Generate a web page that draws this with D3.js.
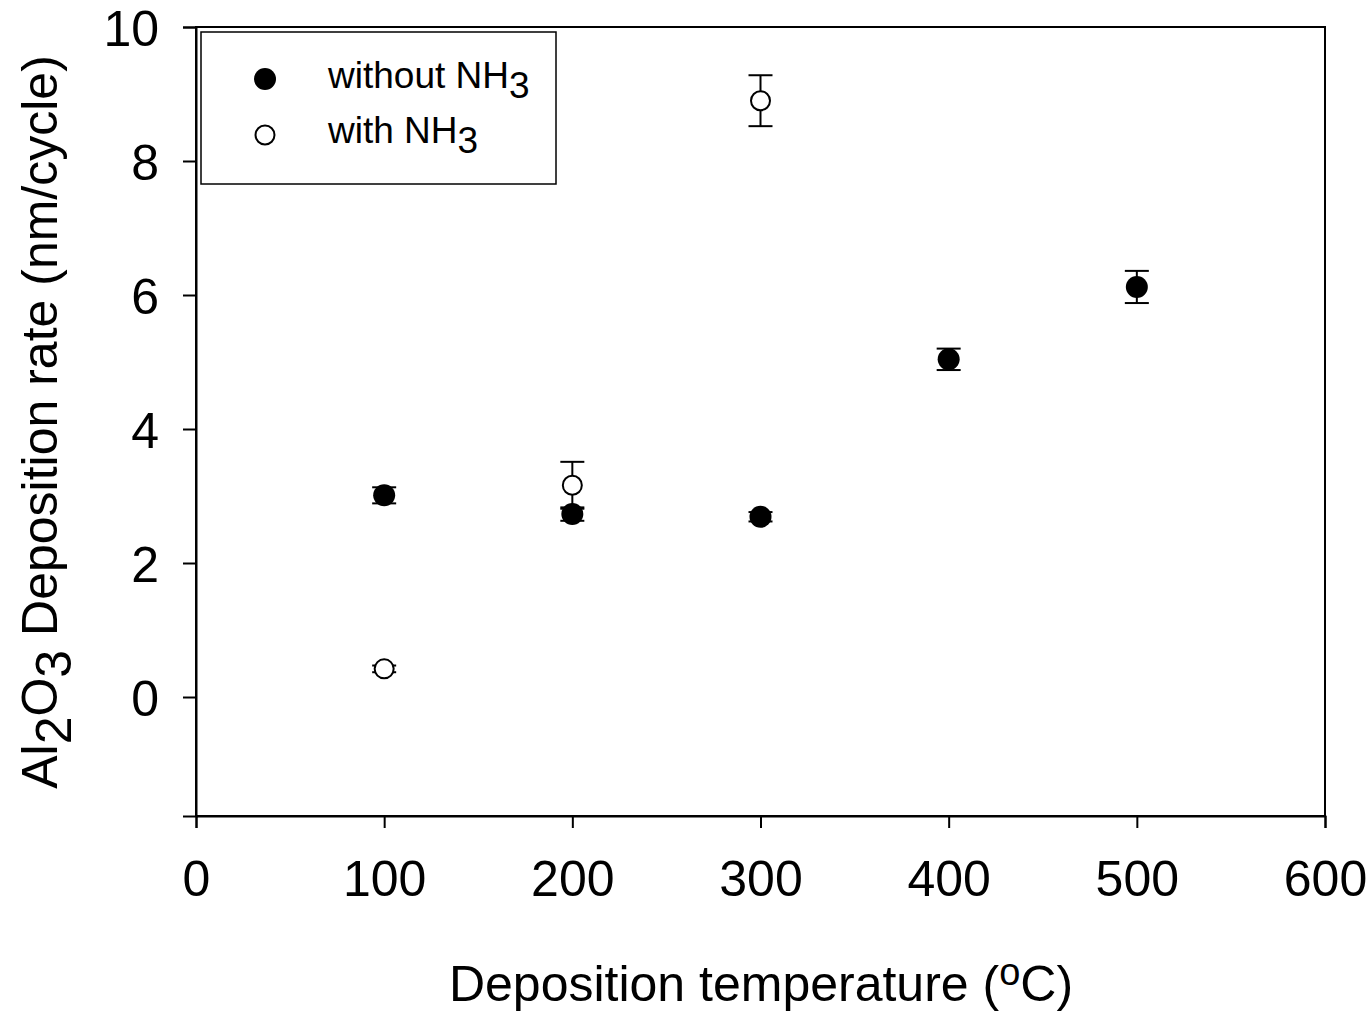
<!DOCTYPE html>
<html><head><meta charset="utf-8">
<script src="https://cdn.jsdelivr.net/npm/d3@7"></script>
<style>body{margin:0;background:#fff}svg{display:block}text{font-family:"Liberation Sans",Arial,sans-serif;fill:#000}</style>
</head><body><svg id="c" width="1372" height="1013"></svg>
<script>
const temps = [100, 200, 300, 400, 500];
const withoutNH3 = [3.01, 2.73, 2.69, 5.04, 6.12];
const withoutErr = [0.12, 0.10, 0.07, 0.16, 0.24];
const withNH3Temps = [100, 200, 300];
const withNH3 = [0.42, 3.16, 8.90];
const withErr = [0.05, 0.35, 0.38];
const xTicks = [0, 100, 200, 300, 400, 500, 600];
const yTicks = [0, 2, 4, 6, 8, 10];

const svg = d3.select("#c");
const L = 196, R = 1325, T = 27, B = 816;
const x = d3.scaleLinear().domain([0, 600]).range([L, R]);
const y = d3.scaleLinear().domain([-1.776, 10]).range([B, T]);

// frame
svg.append("rect").attr("x", L).attr("y", T).attr("width", R - L).attr("height", B - T)
  .attr("fill", "none").attr("stroke", "#000").attr("stroke-width", 2);

const xa = svg.append("g").attr("transform", `translate(0,${B})`)
  .call(d3.axisBottom(x).tickValues(xTicks).tickSize(12).tickPadding(32).tickFormat(d3.format("d")));
const ya = svg.append("g").attr("transform", `translate(${L},0)`)
  .call(d3.axisLeft(y).tickValues(yTicks).tickSize(13).tickPadding(24).tickFormat(d3.format("d")));
[xa, ya].forEach(a => {
  a.select(".domain").attr("stroke", "#000").attr("stroke-width", 2);
  a.selectAll(".tick line").attr("stroke", "#000").attr("stroke-width", 2);
  a.selectAll(".tick text").style("font-size", "50px").attr("fill", "#000")
    .style("font-family", '"Liberation Sans",Arial,sans-serif');
});
ya.selectAll(".tick text").attr("dy", "0.36em");

function errBars(ts, vs, es) {
  const g = svg.append("g").attr("stroke", "#000").attr("stroke-width", 2);
  ts.forEach((t, i) => {
    const cx = x(t), y1 = y(vs[i] + es[i]), y2 = y(vs[i] - es[i]);
    g.append("line").attr("x1", cx).attr("x2", cx).attr("y1", y1).attr("y2", y2);
    g.append("line").attr("x1", cx - 12).attr("x2", cx + 12).attr("y1", y1).attr("y2", y1);
    g.append("line").attr("x1", cx - 12).attr("x2", cx + 12).attr("y1", y2).attr("y2", y2);
  });
}
errBars(withNH3Temps, withNH3, withErr);
errBars(temps, withoutNH3, withoutErr);

svg.append("g").selectAll("circle").data(withNH3Temps).join("circle")
  .attr("cx", d => x(d)).attr("cy", (d, i) => y(withNH3[i])).attr("r", 9.5)
  .attr("fill", "#fff").attr("stroke", "#000").attr("stroke-width", 2);
svg.append("g").selectAll("circle").data(temps).join("circle")
  .attr("cx", d => x(d)).attr("cy", (d, i) => y(withoutNH3[i])).attr("r", 11)
  .attr("fill", "#000");

// legend
const lg = svg.append("g");
lg.append("rect").attr("x", 201).attr("y", 32).attr("width", 355).attr("height", 152)
  .attr("fill", "#fff").attr("stroke", "#000").attr("stroke-width", 1.5);
lg.append("circle").attr("cx", 265).attr("cy", 79).attr("r", 11).attr("fill", "#000");
lg.append("circle").attr("cx", 265).attr("cy", 135).attr("r", 9.5).attr("fill", "#fff")
  .attr("stroke", "#000").attr("stroke-width", 2);
const lt1 = lg.append("text").attr("x", 328).attr("y", 88).style("font-size", "37px");
lt1.append("tspan").text("without NH");
lt1.append("tspan").attr("dy", 10).text("3");
const lt2 = lg.append("text").attr("x", 328).attr("y", 143).style("font-size", "37px");
lt2.append("tspan").text("with NH");
lt2.append("tspan").attr("dy", 10).text("3");

// x label
const xl = svg.append("text").attr("x", 761).attr("y", 1001).attr("text-anchor", "middle").style("font-size", "50px");
xl.append("tspan").text("Deposition temperature (");
xl.append("tspan").attr("dy", -16).style("font-size", "38px").text("o");
xl.append("tspan").attr("dy", 16).text("C)");

// y label
const yl = svg.append("text").attr("transform", "translate(57,422) rotate(-90)")
  .attr("text-anchor", "middle").style("font-size", "50px");
yl.append("tspan").text("Al");
yl.append("tspan").attr("dy", 14).text("2");
yl.append("tspan").attr("dy", -14).text("O");
yl.append("tspan").attr("dy", 14).text("3");
yl.append("tspan").attr("dy", -14).text(" Deposition rate (nm/cycle)");
</script></body></html>
